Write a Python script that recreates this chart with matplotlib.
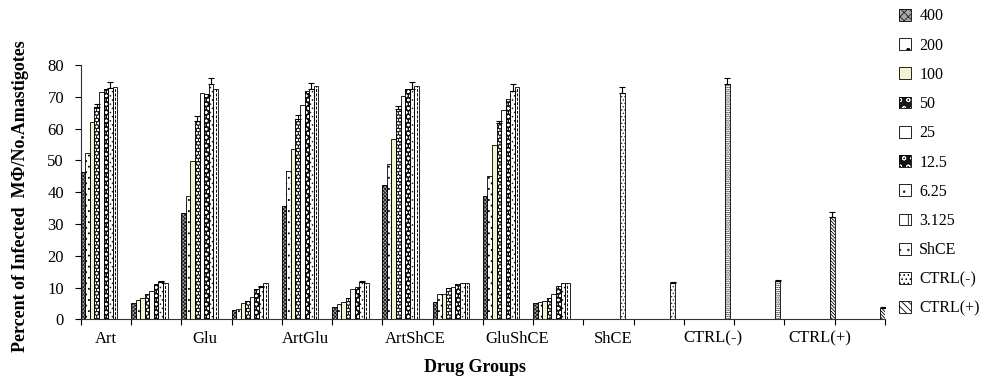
import matplotlib
matplotlib.use("Agg")
import matplotlib.pyplot as plt
from matplotlib.patches import Patch
from matplotlib.legend_handler import HandlerTuple
import numpy as np

plt.rcParams['font.family'] = ['Liberation Serif', 'DejaVu Serif']
plt.rcParams['hatch.linewidth'] = 0.6

# ---- data ----
groups = ['Art', 'Glu', 'ArtGlu', 'ArtShCE', 'GluShCE', 'ShCE', 'CTRL(-)', 'CTRL(+)']
series = ['400', '200', '100', '50', '25', '12.5', '6.25', '3.125', 'ShCE', 'CTRL(-)', 'CTRL(+)']

# each drug group: [percent infected MΦ] and [No. amastigotes] for 8 doses
art_pct = [46.5, 52.4, 62.1, 66.9, 71.4, 72.4, 72.8, 73.1]
art_num = [5.1, 6.0, 6.9, 8.1, 9.0, 11.1, 11.9, 11.4]
glu_pct = [33.4, 38.9, 49.8, 62.5, 71.3, 71.0, 73.9, 72.6]
glu_num = [3.0, 3.4, 5.1, 5.9, 7.2, 9.7, 10.1, 11.4]
artglu_pct = [35.7, 46.8, 53.6, 63.0, 67.5, 71.9, 72.3, 73.5]
artglu_num = [3.8, 5.0, 5.4, 6.8, 9.7, 10.1, 11.9, 11.4]
artshce_pct = [42.3, 49.0, 56.7, 66.1, 70.1, 72.3, 72.5, 73.5]
artshce_num = [5.6, 8.0, 8.0, 9.8, 10.3, 11.1, 11.4, 11.4]
glushce_pct = [38.9, 45.2, 54.9, 61.9, 65.9, 69.2, 71.9, 73.0]
glushce_num = [5.1, 5.5, 5.9, 6.8, 8.0, 10.5, 11.4, 11.4]
# single-series groups: [percent, number]
shce_vals = [71.1, 11.4]
ctrl_neg_vals = [73.9, 12.2]
ctrl_pos_vals = [32.3, 3.7]

# upper error bars for dose series 50 and 6.25 (percent, number)
art_err = {3: [0.9, 0.0], 6: [2.0, 0.3]}
glu_err = {3: [1.4, 0.0], 6: [2.1, 0.3]}
artglu_err = {3: [1.3, 0.0], 6: [2.1, 0.3]}
artshce_err = {3: [1.0, 0.0], 6: [2.1, 0.0]}
glushce_err = {3: [0.5, 0.0], 6: [2.1, 0.0]}
shce_err = [1.9, 0.3]
ctrl_neg_err = [2.0, 0.3]
ctrl_pos_err = [1.4, 0.3]

# ---- build 11 x 16 matrix ----
ncat = 16
vals = np.zeros((len(series), ncat))
errs = np.zeros((len(series), ncat))
dose_groups = [(art_pct, art_num, art_err), (glu_pct, glu_num, glu_err),
               (artglu_pct, artglu_num, artglu_err), (artshce_pct, artshce_num, artshce_err),
               (glushce_pct, glushce_num, glushce_err)]
for g, (p, n, e) in enumerate(dose_groups):
    vals[:8, 2 * g] = p
    vals[:8, 2 * g + 1] = n
    for s, (ep, en) in e.items():
        errs[s, 2 * g] = ep
        errs[s, 2 * g + 1] = en
for k, (v, e) in enumerate([(shce_vals, shce_err), (ctrl_neg_vals, ctrl_neg_err), (ctrl_pos_vals, ctrl_pos_err)]):
    s = 8 + k
    g = 5 + k
    vals[s, 2 * g] = v[0]
    vals[s, 2 * g + 1] = v[1]
    errs[s, 2 * g] = e[0]
    errs[s, 2 * g + 1] = e[1]

# styles: (face, hatch, hatch color, centre dashed line)
styles = [
    ('#a8a8a8', 'x' * 9, '#1e1e1e', False),
    ('white', '.' * 3, 'black', False),
    ('#f3f3cf', None, None, False),
    ('#1a1a1a', 'o' * 5, 'white', False),
    ('white', None, None, False),
    ('#111111', 'o' * 4, 'white', False),
    ('white', '.' * 4, '#222222', False),
    ('white', None, None, True),
    ('white', '.' * 5, '#333333', False),
    ('white', '.' * 8, 'black', False),
    ('white', '\\' * 10, 'black', False),
]

fig = plt.figure(figsize=(10, 3.84), dpi=100)
ax = fig.add_axes([0.0807, 0.1680, 0.8043, 0.6628])

w = 1.0 / 11
x0 = np.arange(ncat)
handles = []
for s, (face, hatch, hc, cline) in enumerate(styles):
    x = x0 + s * w
    h = vals[s]
    ax.bar(x, h, w, align='edge', facecolor=face, edgecolor='none', linewidth=0, zorder=2)
    if hatch:
        ax.bar(x, h, w, align='edge', facecolor='none', edgecolor=hc, hatch=hatch, linewidth=0, zorder=3)
    if cline:
        mm = h > 0
        ax.vlines(x[mm] + w / 2, 0, h[mm], colors='black', linestyles=(0, (3, 1.5)), linewidth=0.7, zorder=3)
    ax.bar(x, h, w, align='edge', facecolor='none', edgecolor='black', linewidth=0.6, zorder=4)
    m = errs[s] > 0
    if m.any():
        ax.errorbar(x[m] + w / 2, h[m], yerr=[np.zeros(m.sum()), errs[s][m]], fmt='none',
                    ecolor='black', elinewidth=0.8, capsize=2.5, capthick=0.8, zorder=5)
    parts = [Patch(facecolor=face, edgecolor='none', linewidth=0)]
    if hatch:
        parts.append(Patch(facecolor='none', edgecolor=hc, hatch=hatch[: max(1, len(hatch) // 2)], linewidth=0))
    if cline:
        parts.append(Patch(facecolor='none', edgecolor='black', hatch='|', linewidth=0))
    parts.append(Patch(facecolor='none', edgecolor='black', linewidth=0.6))
    handles.append(tuple(parts))

fig.legend(handles, series, handler_map={tuple: HandlerTuple(ndivide=1, pad=0)},
           loc='upper left', bbox_to_anchor=(0.893, 0.995), frameon=False,
           fontsize=11.5, handlelength=0.75, handleheight=0.75, handletextpad=0.5,
           labelspacing=0.83, borderaxespad=0)

ax.set_xlim(0, ncat)
ax.set_ylim(0, 80)
ax.set_yticks(np.arange(0, 81, 10))
ax.set_xticks(np.arange(0, ncat + 1))
ax.set_xticklabels([])
label_offsets = [0.0, -0.03, -0.02, 0.16, 0.18, 0.1, 0.08, 0.2]
ax.set_xticks([2 * g + 0.5 + label_offsets[g] for g in range(len(groups))], minor=True)
ax.set_xticklabels(groups, minor=True)
ax.tick_params(axis='x', which='minor', length=0, pad=8, labelsize=12)
ax.tick_params(axis='x', which='major', length=4, width=0.8, direction='out')
ax.tick_params(axis='y', length=4, width=0.8, direction='out', labelsize=12, pad=8)
for side in ['top', 'right']:
    ax.spines[side].set_visible(False)
for side in ['left', 'bottom']:
    ax.spines[side].set_linewidth(0.8)
    ax.spines[side].set_color('#333333')

fig.text(0.475, 1 - 368 / 384, 'Drug Groups', ha='center', va='center', fontsize=13, fontweight='bold')
fig.text(0.021, 1 - 196 / 384, 'Percent of Infected  MΦ/No.Amastigotes', ha='center', va='center',
         rotation=90, fontsize=13, fontweight='bold')

fig.savefig('out.png', dpi=100)
